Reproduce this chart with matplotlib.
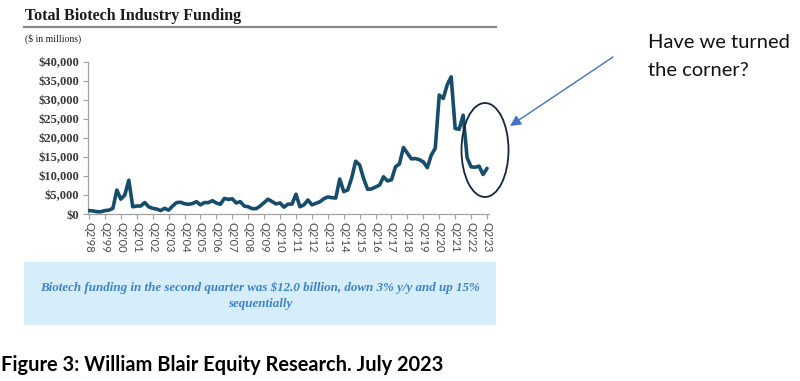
import matplotlib
matplotlib.use("Agg")
import matplotlib.pyplot as plt
from matplotlib.patches import Ellipse, Rectangle
from matplotlib.lines import Line2D

# ---- data (quarterly, Q2'98 .. Q2'23, $ in millions) ----
funding = [
    900, 800, 600, 600, 900, 1000, 1500, 6300, 3900, 5000,
    8900, 1900, 2100, 2100, 3000, 1900, 1500, 1300, 900, 1500,
    1000, 2100, 3000, 3100, 2700, 2550, 2750, 3250, 2400, 3000,
    3000, 3500, 2900, 2550, 4100, 3850, 4000, 2900, 3250, 2100,
    1900, 1400, 1400, 2100, 3000, 3900, 3250, 2650, 2900, 1800,
    2600, 2600, 5200, 1900, 2400, 3700, 2400, 2800, 3200, 4000,
    4500, 4300, 4200, 9200, 5900, 6300, 9500, 13900, 12900, 9300,
    6500, 6600, 7100, 7600, 9800, 8700, 9000, 12400, 13200, 17500,
    16000, 14500, 14600, 14300, 13700, 12200, 15500, 17300, 31300, 30400,
    34000, 36100, 22500, 22300, 26000, 14800, 12400, 12300, 12600, 10400,
    12000,
]
tick_labels = ["Q2'98", "Q2'99", "Q2'00", "Q2'01", "Q2'02", "Q2'03", "Q2'04",
               "Q2'05", "Q2'06", "Q2'07", "Q2'08", "Q2'09", "Q2'10", "Q2'11",
               "Q2'12", "Q2'13", "Q2'14", "Q2'15", "Q2'16", "Q2'17", "Q2'18",
               "Q2'19", "Q2'20", "Q2'21", "Q2'22", "Q2'23"]
y_ticks = [0, 5000, 10000, 15000, 20000, 25000, 30000, 35000, 40000]

title = "Total Biotech Industry Funding"
subtitle = "($ in millions)"
note_lines = ["Biotech funding in the second quarter was $12.0 billion, down 3% y/y and up 15%",
              "sequentially"]
caption = "Figure 3: William Blair Equity Research. July 2023"
callout_lines = ["Have we turned", "the corner?"]

W, H = 800, 381
fig = plt.figure(figsize=(W / 100, H / 100), dpi=100)
fig.patch.set_facecolor("white")

def px_rect(left, top, right, bottom):
    return [left / W, 1 - bottom / H, (right - left) / W, (bottom - top) / H]

# ---- main chart axes ----
ax = fig.add_axes(px_rect(88, 62, 489, 214))
x = list(range(len(funding)))
ax.plot(x, funding, color="#164c6c", lw=2.6, solid_joinstyle="round",
        solid_capstyle="round", zorder=3)
ax.set_xlim(-0.25, 100.5)
ax.set_ylim(0, 40000)
ax.set_yticks(y_ticks)
ax.set_yticklabels([f"${v:,.0f}" for v in y_ticks], family="Liberation Serif",
                   fontweight="bold", fontsize=9, color="#3a3a3a")
ax.set_xticks(list(range(0, len(funding), 4)))
ax.set_xticklabels(tick_labels, rotation=270, family="Lato", fontsize=8,
                   color="#4a4a4a")
for s in ["top", "right"]:
    ax.spines[s].set_visible(False)
for s in ["left", "bottom"]:
    ax.spines[s].set_color("#a0a0a0")
    ax.spines[s].set_linewidth(0.9)
ax.tick_params(axis="both", direction="out", length=3.5, width=0.8,
               color="#a0a0a0", pad=2)
ax.tick_params(axis="y", pad=3)

# ---- overlay in pixel coordinates ----
ov = fig.add_axes([0, 0, 1, 1], zorder=5)
ov.set_xlim(0, W)
ov.set_ylim(H, 0)
ov.axis("off")
ov.patch.set_alpha(0)

ov.text(25, 16, title, family="Liberation Serif", fontweight="bold",
        fontsize=11.5, color="#1a1a1a", va="center", ha="left")
ov.add_line(Line2D([24, 496], [27, 27], color="#8a8a8a", lw=1.6))
ov.text(25, 38.5, subtitle, family="Liberation Serif", fontsize=7,
        color="#222222", va="center", ha="left")

# ellipse highlight
ov.add_patch(Ellipse((485, 150), 47, 94, fill=False, edgecolor="#16243f", lw=1.3))
# arrow
ov.annotate("", xy=(510, 126), xytext=(613, 57),
            arrowprops=dict(arrowstyle="-|>", color="#4472C4", lw=1.0,
                            mutation_scale=16, shrinkA=0, shrinkB=0))
for yy, line in zip([42, 70], callout_lines):
    ov.text(648, yy, line, family="Lato", fontsize=14.5, color="#111111",
            va="center", ha="left")

# note box
ov.add_patch(Rectangle((24, 262), 472, 63, facecolor="#d6edfc", edgecolor="none"))
for yy, line in zip([288, 304], note_lines):
    ov.text(260, yy, line, family="Liberation Serif", fontstyle="italic",
            fontweight="bold", fontsize=9.4, color="#3e82cc", va="center",
            ha="center")

# caption
ov.text(1, 365, caption, family="Lato", fontweight="bold", fontsize=14.4,
        color="#000000", va="center", ha="left")

fig.savefig("out.png", dpi=100)
